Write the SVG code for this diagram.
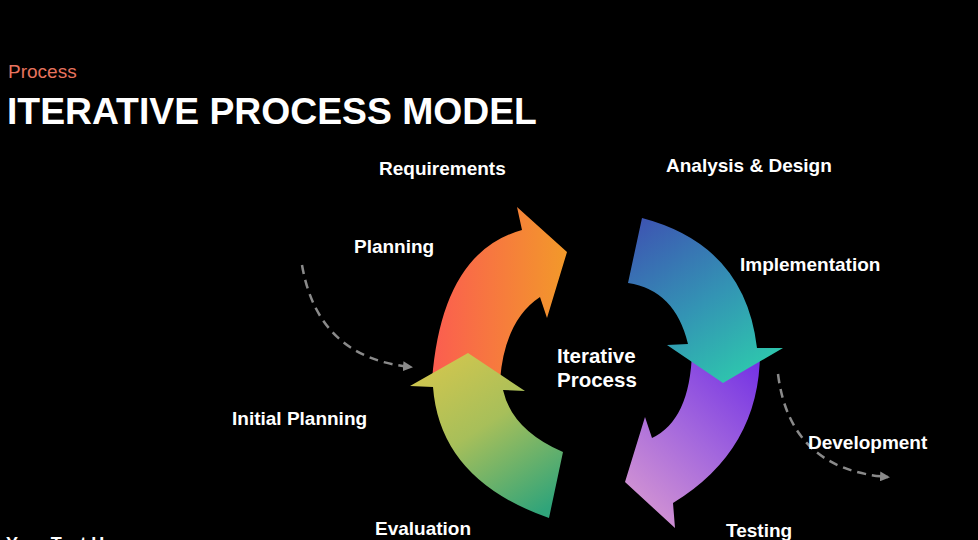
<svg xmlns="http://www.w3.org/2000/svg" width="978" height="540" viewBox="0 0 978 540">
  <defs>
    <style>
      .label { font-family: "Liberation Sans", Arial, sans-serif; font-weight: bold; font-size: 19px; fill: #ffffff; }
      .center { font-family: "Liberation Sans", Arial, sans-serif; font-weight: bold; font-size: 20.5px; fill: #ffffff; }
      .dash { fill: none; stroke: #8a8a8a; stroke-width: 2.5; stroke-dasharray: 9 6; marker-end: url(#head); }
    </style>
    <marker id="head" viewBox="0 0 10 10" refX="8" refY="5" markerWidth="4" markerHeight="4" orient="auto" markerUnits="strokeWidth">
      <path d="M0,0 L10,5 L0,10 Z" fill="#8a8a8a"/>
    </marker>
    <linearGradient id="gOrange" x1="0" y1="0" x2="1" y2="0">
      <stop offset="0" stop-color="#fb5d50"/>
      <stop offset="1" stop-color="#f2992a"/>
    </linearGradient>
    <linearGradient id="gGreen" x1="0.2" y1="0" x2="0.8" y2="1">
      <stop offset="0" stop-color="#d2c64e"/>
      <stop offset="0.45" stop-color="#a7bf5a"/>
      <stop offset="1" stop-color="#30a47a"/>
    </linearGradient>
    <linearGradient id="gBlue" x1="0.1" y1="0" x2="0.7" y2="1">
      <stop offset="0" stop-color="#3d55b2"/>
      <stop offset="0.55" stop-color="#3394b4"/>
      <stop offset="1" stop-color="#2ec7ad"/>
    </linearGradient>
    <linearGradient id="gPurple" x1="0.9" y1="0" x2="0.2" y2="1">
      <stop offset="0" stop-color="#7432e4"/>
      <stop offset="0.5" stop-color="#a367dd"/>
      <stop offset="1" stop-color="#d596d2"/>
    </linearGradient>
  </defs>

  <rect width="978" height="540" fill="#000000"/>

  <!-- heading -->
  <text x="8" y="78" font-family="'Liberation Sans', Arial, sans-serif" font-size="19" fill="#e7735e">Process</text>
  <text x="7" y="124" font-family="'Liberation Sans', Arial, sans-serif" font-size="37.3" font-weight="bold" fill="#ffffff">ITERATIVE PROCESS MODEL</text>

  <!-- dashed connectors -->
  <g id="connectors">
    <path class="dash" d="M302,265 Q318,358 411,367"/>
    <path class="dash" d="M778,374 Q790,470 888,477"/>
  </g>

  <!-- cycle arrows -->
  <g id="arrow-planning">
    <path fill="url(#gOrange)" d="M432,380 Q442,252 522,230 L517,207 L567,252 L547,318 L540,297 Q505,320 500,380 Z"/>
  </g>
  <g id="arrow-evaluation">
    <path fill="url(#gGreen)" d="M468,353 L525,391 L503,390 Q512,430 563,452 L549,518 Q440,480 433,387 L410,386 Z"/>
  </g>
  <g id="arrow-testing">
    <path fill="url(#gPurple)" d="M760,352 Q760,450 673,503 L675,528 L625,482 L645,417 L652,438 Q690,420 692,352 Z"/>
  </g>
  <g id="arrow-design">
    <path fill="url(#gBlue)" d="M642,218 Q745,245 757,348 L783,348 L723,383 L667,345 L688,344 Q675,290 628,283 Z"/>
  </g>

  <!-- labels -->
  <g id="label-requirements"><text class="label" x="379" y="175">Requirements</text></g>
  <g id="label-analysis"><text class="label" x="666" y="172">Analysis &amp; Design</text></g>
  <g id="label-planning"><text class="label" x="354" y="253">Planning</text></g>
  <g id="label-implementation"><text class="label" x="740" y="271">Implementation</text></g>
  <g id="label-center">
    <text class="center" x="557" y="363">Iterative</text>
    <text class="center" x="557" y="387">Process</text>
  </g>
  <g id="label-initial"><text class="label" x="232" y="425">Initial Planning</text></g>
  <g id="label-development"><text class="label" x="808" y="449">Development</text></g>
  <g id="label-evaluation"><text class="label" x="375" y="535">Evaluation</text></g>
  <g id="label-testing"><text class="label" x="726" y="537">Testing</text></g>

  <!-- footer note, running off the bottom edge -->
  <text x="6" y="550" font-family="'Liberation Sans', Arial, sans-serif" font-size="18" font-weight="bold" fill="#ffffff">Your Text Here</text>
</svg>
